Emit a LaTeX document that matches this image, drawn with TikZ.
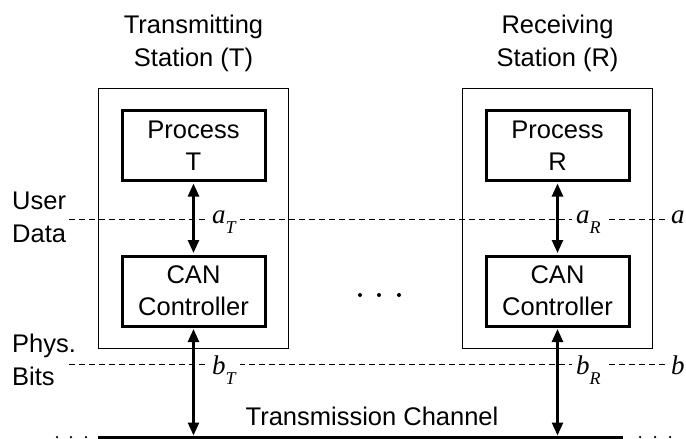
\documentclass[tikz,border=0pt]{standalone}
\usepackage{fontspec}
\setmainfont{Liberation Sans}
\newfontfamily\tnr{Liberation Serif}
\usetikzlibrary{arrows.meta}
\tikzset{
  lbl/.style={font=\fontsize{25.5}{33}\selectfont, align=center, inner sep=0pt},
  station/.style={draw, line width=1pt, minimum width=190pt, minimum height=260pt, inner sep=0pt},
  unitbox/.style={draw, line width=3pt, minimum width=143pt, minimum height=70pt, inner sep=0pt,
    font=\fontsize{25.5}{32}\selectfont, align=center},
  link/.style={line width=2.5pt, {Triangle[length=13pt,width=11pt]}-{Triangle[length=13pt,width=11pt]},
    shorten <=1.5pt, shorten >=1.5pt},
  level/.style={line width=0.9pt, dash pattern=on 6pt off 4pt},
  sym/.style={font=\fontsize{27}{27}\selectfont\tnr\itshape, inner xsep=4pt, inner ysep=0pt, fill=white},
  dot/.style={fill=black, inner sep=0pt, circle, minimum size=#1}
}
\newcommand{\subT}[1]{\raisebox{-10pt}{\fontsize{18}{18}\selectfont #1}}
\begin{document}
\begin{tikzpicture}[x=1pt,y=-1pt]
\useasboundingbox (0,0) rectangle (686,439);

% titles
\node[lbl] (tT) at (193.5,43) {Transmitting\\Station (T)};
\node[lbl] (tR) at (557.5,43) {Receiving\\Station (R)};

% stations
\node[station] (sT) at (193.5,218.5) {};
\node[station] (sR) at (557.5,218.5) {};

% dashed levels
\coordinate (aL) at (69,219);
\coordinate (aE) at (667,219);
\coordinate (bL) at (69,364);
\coordinate (bE) at (667,364);
\draw[level] (aL) -- (aE);
\draw[level] (bL) -- (bE);

% inner boxes
\node[unitbox, fill=white] (pT) at (193.5,145.5) {Process\\T};
\node[unitbox, fill=white] (cT) at (193.5,291) {CAN\\Controller};
\node[unitbox, fill=white] (pR) at (557.5,145.5) {Process\\R};
\node[unitbox, fill=white] (cR) at (557.5,291) {CAN\\Controller};

% channel
\coordinate (chL) at (98,437);
\coordinate (chR) at (623,437);
\draw[line width=3pt] (chL) -- (chR);
\coordinate (chT) at (193.5,435.5);
\coordinate (chRx) at (557.5,435.5);

% arrows
\draw[link] (pT.south) -- (cT.north);
\draw[link] (pR.south) -- (cR.north);
\draw[link, shorten >=0pt] (cT.south) -- (chT);
\draw[link, shorten >=0pt] (cR.south) -- (chRx);

% symbols
\node[sym, anchor=base west] (aT) at (208,223) {a\subT{T}};
\node[sym, anchor=base west] (aR) at (572,223) {a\subT{R}};
\node[sym, anchor=base west, fill=none, inner xsep=0pt] (aX) at (671,223) {a};
\node[sym, anchor=base west] (bT) at (208,374) {b\subT{T}};
\node[sym, anchor=base west] (bR) at (572,374) {b\subT{R}};
\node[sym, anchor=base west, fill=none, inner xsep=0pt] (bX) at (671,374) {b};

% side labels
\node[lbl, align=left, anchor=west] (ud) at (12,217) {User\\Data};
\node[lbl, align=left, anchor=west] (pb) at (12,360) {Phys.\\Bits};
\node[lbl, anchor=base] (tc) at (372,425) {Transmission Channel};

% ellipses
\node[dot=4pt] (m1) at (360,295) {};
\node[dot=4pt] (m2) at (379,295) {};
\node[dot=4pt] (m3) at (399,295) {};
\node[dot=2.5pt] (l1) at (57,437) {};
\node[dot=2.5pt] (l2) at (71,437) {};
\node[dot=2.5pt] (l3) at (86,437) {};
\node[dot=2.5pt] (r1) at (640,437) {};
\node[dot=2.5pt] (r2) at (655,437) {};
\node[dot=2.5pt] (r3) at (670,437) {};
\end{tikzpicture}
\end{document}
